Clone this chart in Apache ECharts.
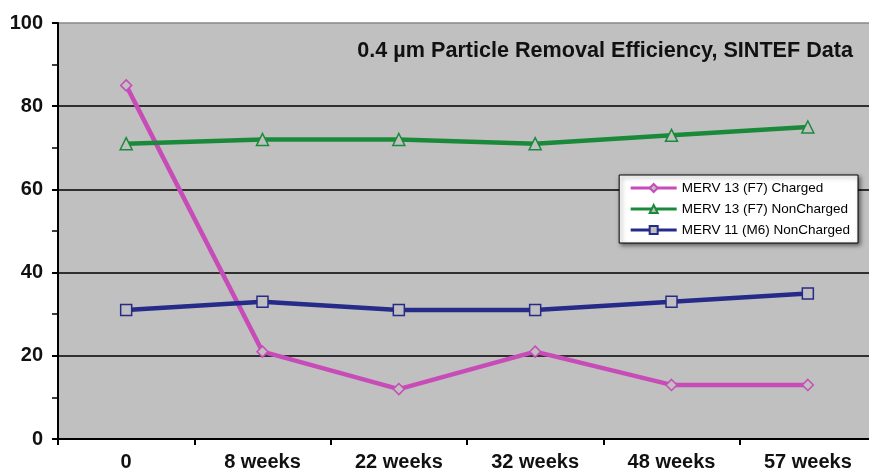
<!DOCTYPE html>
<html><head><meta charset="utf-8">
<script src="https://cdn.jsdelivr.net/npm/echarts@6/dist/echarts.min.js"></script>
<style>html,body{margin:0;padding:0;background:#fff;overflow:hidden}#c{width:869px;height:470px}</style>
</head><body><div id="c"></div>
<script>
const categories = ['0', '8 weeks', '22 weeks', '32 weeks', '48 weeks', '57 weeks'];
const charged = [85, 21, 12, 21, 13, 13];
const nonChargedF7 = [71, 72, 72, 71, 73, 75];
const nonChargedM6 = [31, 33, 31, 31, 33, 35];
const yTicks = [0, 20, 40, 60, 80, 100];
const titleText = '0.4 µm Particle Removal Efficiency, SINTEF Data';
const seriesNames = ['MERV 13 (F7) Charged', 'MERV 13 (F7) NonCharged', 'MERV 11 (M6) NonCharged'];

const bg = '#c0c0c0';
const font = 'Liberation Sans, Arial, sans-serif';
const chart = echarts.init(document.getElementById('c'));
function mk(name, data, color, symbol, size) {
  return {
    name, type: 'line', data, symbol, symbolSize: size,
    lineStyle: { color, width: 4.5 },
    itemStyle: { color: bg, borderColor: color, borderWidth: 1.5 },
    emphasis: { disabled: true }
  };
}
chart.setOption({
  animation: false,
  textStyle: { fontFamily: font },
  title: {
    text: titleText, right: 11, top: 35,
    textStyle: { fontSize: 21.6, fontWeight: 'bold', color: '#111', fontFamily: font }
  },
  legend: {
    orient: 'vertical', right: 11, top: 175, itemWidth: 46, itemHeight: 10, itemGap: 7,
    backgroundColor: '#fff', borderColor: '#000', borderWidth: 1, padding: [6, 8, 6, 10],
    shadowColor: 'rgba(0,0,0,0.5)', shadowBlur: 4, shadowOffsetX: 2, shadowOffsetY: 2,
    lineStyle: { width: 3 },
    textStyle: { fontSize: 13.5, color: '#000', fontFamily: font },
    data: seriesNames
  },
  grid: { left: 58, top: 23, width: 818, height: 416, show: true, backgroundColor: bg, borderWidth: 0, outerBoundsMode: 'none', containLabel: false },
  xAxis: {
    type: 'category', data: categories, boundaryGap: true,
    axisLine: { lineStyle: { color: '#000', width: 2 } },
    axisTick: { show: true, interval: 0, length: 6, lineStyle: { color: '#000', width: 2 } },
    axisLabel: { margin: 13, fontSize: 20, fontWeight: 'bold', color: '#111', interval: 0 }
  },
  yAxis: {
    type: 'value', min: yTicks[0], max: yTicks[yTicks.length - 1], interval: 20,
    axisLine: { show: true, lineStyle: { color: '#000', width: 2 } },
    axisTick: { show: true, length: 6, lineStyle: { color: '#000', width: 2 } },
    minorTick: { show: true, splitNumber: 2, length: 6, lineStyle: { color: '#000', width: 1.5 } },
    splitLine: { show: true, lineStyle: { color: ['#000', '#000', '#000', '#000', '#000', '#888'], width: 1.5 } },
    axisLabel: { margin: 15, fontSize: 20, fontWeight: 'bold', color: '#111' }
  },
  series: [
    mk(seriesNames[0], charged, '#c84cb8', 'diamond', 11),
    mk(seriesNames[1], nonChargedF7, '#1a8a3a', 'triangle', 12),
    mk(seriesNames[2], nonChargedM6, '#262a88', 'rect', 11)
  ]
});
</script></body></html>
